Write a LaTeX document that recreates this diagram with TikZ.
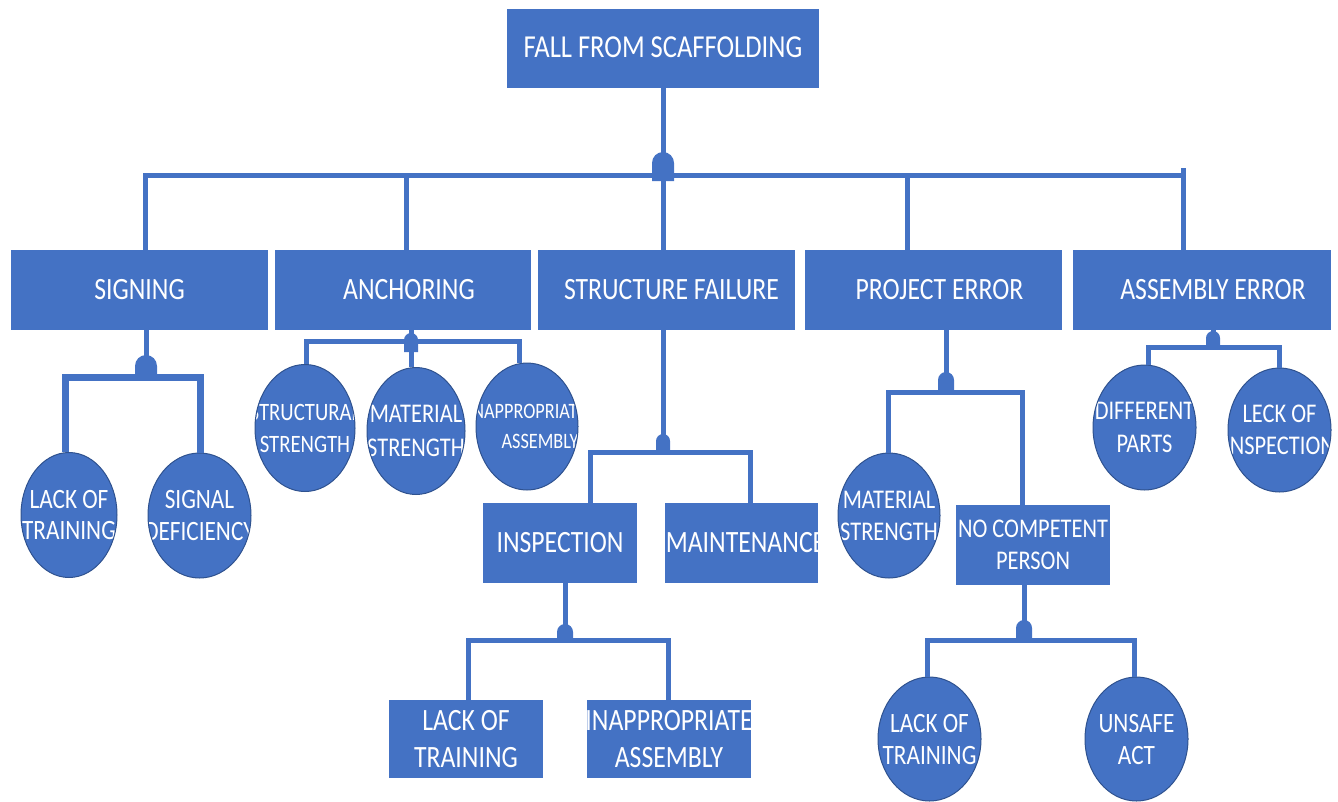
\documentclass[tikz,border=0pt]{standalone}
\usepackage{fontspec}
\setmainfont{Carlito}[FakeStretch=0.83]
\usetikzlibrary{shapes.geometric}
\definecolor{obl}{HTML}{4472C4}
\definecolor{odk}{HTML}{2F528F}
% x, top of dome, half width, bottom
\newcommand\andgate[4]{%
  \fill[obl] (#1-#3,#4) -- (#1-#3,#2+#3) arc[start angle=180,end angle=0,radius=#3pt] -- (#1+#3,#4) -- cycle;}
\begin{document}
\begin{tikzpicture}[x=1pt,y=-1pt,
  box/.style={fill=obl, draw=none, text=white, inner sep=0pt, align=center,
              font=\fontsize{31}{37}\selectfont},
  ell/.style={ellipse, fill=obl, draw=odk, line width=1pt, inner sep=0pt},
  cbox/.style={fill=obl, draw=none, inner sep=0pt},
  ctext/.style n args={3}{path picture={\node[text=white, align=center, inner sep=0pt,
              font=\fontsize{#1}{#2}\selectfont] at (path picture bounding box.center) {#3};}},
  conn/.style={draw=obl, line width=5pt},
]
\useasboundingbox (0,0) rectangle (1338,801);

% ---- nodes ----
\node[box, minimum width=312pt, minimum height=79pt, font=\fontsize{32}{36}\selectfont] (top) at (663,48.5) {\raisebox{3pt}{FALL FROM SCAFFOLDING}};

\node[box, minimum width=257pt, minimum height=80pt] (sign)   at (139.5,290) {\raisebox{-3pt}{SIGNING}};
\node[box, minimum width=256pt, minimum height=80pt] (anch)   at (403,290)   {\raisebox{-3pt}{\hspace*{12pt}ANCHORING}};
\node[box, minimum width=257pt, minimum height=80pt] (struct) at (666.5,290) {\raisebox{-3pt}{\hspace*{10pt}STRUCTURE FAILURE}};
\node[box, minimum width=257pt, minimum height=80pt] (proj)   at (933.5,290) {\raisebox{-3pt}{\hspace*{12pt}PROJECT ERROR}};
\node[box, minimum width=258pt, minimum height=80pt] (asm)    at (1202,290)  {\raisebox{2pt}{\hspace*{22pt}ASSEMBLY ERROR}};

% signing children
\node[ell, minimum width=96pt,  minimum height=125pt, ctext={28}{31}{LACK OF\\TRAINING}]   (lt1) at (69,515) {};
\node[ell, minimum width=103pt, minimum height=125pt, ctext={28}{32}{SIGNAL\\DEFICIENCY}]  (sd)  at (199.5,515.5) {};

% anchoring children
\node[ell, minimum width=100pt, minimum height=127pt, ctext={25}{32}{STRUCTURAL\\STRENGTH}]   (ss) at (305,428) {};
\node[ell, minimum width=98pt,  minimum height=127pt, ctext={27}{34}{MATERIAL\\STRENGTH}]     (ms) at (416,431) {};
\node[ell, minimum width=102pt, minimum height=127pt, ctext={22}{30}{INAPPROPRIATE\\\hspace*{26pt}ASSEMBLY}] (ia) at (527,426.5) {};

% structure failure children
\node[box, minimum width=154pt, minimum height=80pt] (insp) at (560,543) {INSPECTION};
\node[cbox, minimum width=153pt, minimum height=80pt, ctext={31}{37}{\hspace*{8pt}MAINTENANCE}] (maint) at (741.5,543) {};

% inspection children
\node[box, minimum width=154pt, minimum height=78pt] (lt2) at (466,739) {LACK OF\\TRAINING};
\node[cbox, minimum width=164pt, minimum height=78pt, ctext={31}{37}{INAPPROPRIATE\\ASSEMBLY}] (ia2) at (669,739) {};

% project error children
\node[ell, minimum width=102pt, minimum height=125pt, ctext={27}{32}{MATERIAL\\STRENGTH}] (ms2) at (889,515.5) {};
\node[box, minimum width=154pt, minimum height=80pt, font=\fontsize{27}{32}\selectfont] (nocomp) at (1033,545) {NO COMPETENT\\PERSON};

% no competent person children
\node[ell, minimum width=103pt, minimum height=124pt, ctext={28}{32}{LACK OF\\TRAINING}] (lt3) at (929.5,739) {};
\node[ell, minimum width=103pt, minimum height=124pt, ctext={28}{32}{UNSAFE\\ACT}]       (ua)  at (1136.5,739) {};

% assembly error children
\node[ell, minimum width=103pt, minimum height=125pt, ctext={27}{33}{DIFFERENT\\PARTS}]    (dp) at (1144.5,427.5) {};
\node[ell, minimum width=103pt, minimum height=124pt, ctext={27}{32}{LECK OF\\INSPECTION}] (li) at (1279.5,430) {};

% ---- gate bar points ----
\coordinate (b0) at (663,175);
\coordinate (tick) at (1183,168);
\coordinate (bs) at (146,377);
\coordinate (ba) at (411,341);
\coordinate (bf) at (663,452);
\coordinate (bi) at (565,640);
\coordinate (bp) at (946,392);
\coordinate (bn) at (1024,640);
\coordinate (bm) at (1213,347);

% ---- connectors ----
\draw[conn] (top.south) -- (b0);
\draw[conn] (b0) -| ([xshift=5.5pt]sign.north);
\draw[conn] (b0) -| ([xshift=3pt]anch.north);
\draw[conn] (b0) -- ([xshift=-3.5pt]struct.north);
\draw[conn] (b0) -| ([xshift=-26.5pt]proj.north);
\draw[conn] (b0) -| ([xshift=-19pt]asm.north);
\draw[conn] (tick) -- ([xshift=-19pt]asm.north);

\draw[conn] ([xshift=6.5pt]sign.south) -- (bs);
\draw[conn, line width=7pt] (bs) -| ([xshift=-4pt]lt1.north);
\draw[conn, line width=7pt] (bs) -| ([xshift=0.5pt]sd.north);

\draw[conn] ([xshift=8pt]anch.south) -- (ba);
\draw[conn] (ba) -| ([xshift=1pt]ss.north);
\draw[conn] (ba) -- ([xshift=-5pt]ms.north);
\draw[conn] (ba) -| ([xshift=-8pt]ia.north);

\draw[conn] ([xshift=-3.5pt]struct.south) -- (bf);
\draw[conn] (bf) -| ([xshift=30pt]insp.north);
\draw[conn] (bf) -| ([xshift=8.5pt]maint.north);

\draw[conn] ([xshift=5pt]insp.south) -- (bi);
\draw[conn] (bi) -| ([xshift=2pt]lt2.north);
\draw[conn] (bi) -| ([xshift=-1pt]ia2.north);

\draw[conn] ([xshift=12.5pt]proj.south) -- (bp);
\draw[conn] (bp) -| ([xshift=-1pt]ms2.north);
\draw[conn] (bp) -| ([xshift=-11pt]nocomp.north);

\draw[conn] ([xshift=-9pt]nocomp.south) -- (bn);
\draw[conn] (bn) -| ([xshift=-2.5pt]lt3.north);
\draw[conn] (bn) -| ([xshift=-2.5pt]ua.north);

\draw[conn] ([xshift=11pt]asm.south) -- (bm);
\draw[conn] (bm) -| ([xshift=3.5pt]dp.north);
\draw[conn] (bm) -| ([xshift=-0.5pt]li.north);

% ---- AND gates ----
\andgate{663}{152}{11}{181}
\andgate{146}{355}{11}{379}
\andgate{411}{333}{7}{352}
\andgate{663}{434}{7}{453}
\andgate{565}{624}{8}{641}
\andgate{946}{372}{8}{393}
\andgate{1024}{620}{8}{641}
\andgate{1213}{331}{7}{349}
\end{tikzpicture}
\end{document}
